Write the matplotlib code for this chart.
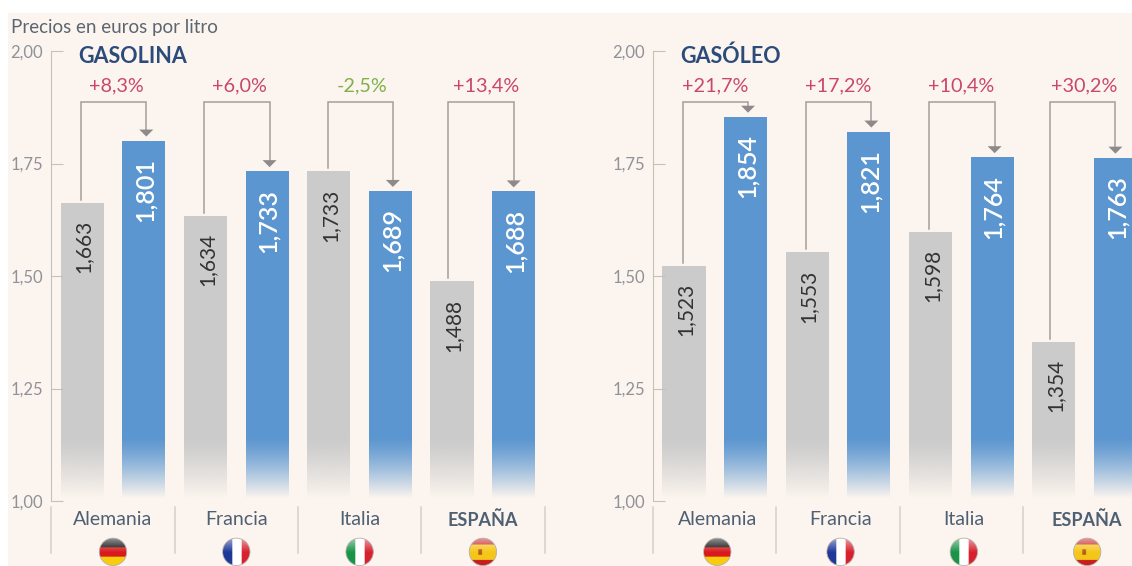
import matplotlib
matplotlib.use("Agg")
import matplotlib.pyplot as plt
import numpy as np
from matplotlib.patches import Ellipse, Rectangle
from matplotlib.transforms import ScaledTranslation

plt.rcParams['font.family'] = ['Lato', 'DejaVu Sans']

# datos
paises = ["Alemania", "Francia", "Italia", "ESPAÑA"]
gasolina_antes = [1.663, 1.634, 1.733, 1.488]
gasolina_ahora = [1.801, 1.733, 1.689, 1.688]
gasolina_var = ["+8,3%", "+6,0%", "-2,5%", "+13,4%"]
gasoleo_antes = [1.523, 1.553, 1.598, 1.354]
gasoleo_ahora = [1.854, 1.821, 1.764, 1.763]
gasoleo_var = ["+21,7%", "+17,2%", "+10,4%", "+30,2%"]
y_ticks = [1.00, 1.25, 1.50, 1.75, 2.00]

W, H = 1132, 566
PX_X = 123.3   # pixeles por pais
PX_Y = 450.0   # pixeles por euro
FONDO = "#FCF5EF"
GRIS = "#CBCBCB"
AZUL = "#5B96D0"
LINEA = "#A39E9D"
TEXTO = "#4E6072"
ROJO = "#C9476B"
VERDE = "#7FB04A"
TITULO = "#2B4C7A"
TICKS = "#8F9299"


def bandera(nombre):
    # bandera redonda con brillo arriba, como imagen RGBA
    n = 60
    img = np.ones((n, n, 3))
    t = np.arange(n) / n
    if nombre == "Alemania":
        img[t < 1 / 3] = (0.05, 0.05, 0.05)
        img[(t >= 1 / 3) & (t < 2 / 3)] = (0.85, 0.1, 0.12)
        img[t >= 2 / 3] = (0.98, 0.8, 0.05)
    elif nombre == "Francia":
        img[:, t < 1 / 3] = (0.12, 0.22, 0.6)
        img[:, t >= 2 / 3] = (0.85, 0.13, 0.18)
    elif nombre == "Italia":
        img[:, t < 1 / 3] = (0.1, 0.58, 0.28)
        img[:, t >= 2 / 3] = (0.85, 0.13, 0.18)
    else:
        img[:] = (0.96, 0.78, 0.1)
        img[t < 0.22] = (0.78, 0.12, 0.12)
        img[t > 0.78] = (0.78, 0.12, 0.12)
        img[24:36, 20:28] = (0.72, 0.35, 0.1)
    brillo = np.clip(0.55 - t * 1.1, 0, 1)[:, None, None]
    return img * (1 - brillo) + brillo


def panel(ax, antes, ahora, variacion, titulo, centro, dx_pais, dx_var):
    # xlim e ylim van de forma que cada pais mida lo mismo en pixeles
    x0, x1 = ax.get_position().x0 * W, ax.get_position().x1 * W
    xlim = ((x0 - centro) / PX_X, (x1 - centro) / PX_X)
    ylim = (1 - (H - 501) / PX_Y, 1 + 501 / PX_Y)
    x = np.arange(len(paises))

    ax.bar(x - 0.25, np.array(antes) - 1, 0.35, bottom=1, color=GRIS, zorder=1)
    ax.bar(x + 0.25, np.array(ahora) - 1, 0.35, bottom=1, color=AZUL, zorder=1)

    # degradado al color del fondo en la base de las barras
    capa = np.ones((100, 2, 4))
    capa[..., :3] = matplotlib.colors.to_rgb(FONDO)
    capa[..., 3] = np.clip(np.linspace(-0.05, 1.05, 100), 0, 1)[:, None] ** 1.3
    ax.imshow(capa, extent=(-0.45, xlim[1], 1.0, 1.15), aspect="auto", zorder=1.5,
              origin="upper", interpolation="bilinear")

    for i in x:
        a, b = antes[i], ahora[i]
        # el conector de ESPAÑA va un poco mas a la izquierda
        xa = i - 0.26 - (2.5 / PX_X if i == 3 else 0)
        xb = i + 0.27 - (2.5 / PX_X if i == 3 else 0)
        punta = b + 4 / PX_Y
        ax.plot([xa, xa, xb, xb], [a + 3 / PX_Y, 1.887, 1.887, punta + 6 / PX_Y],
                color=LINEA, lw=1.1, zorder=2, solid_joinstyle="miter")
        ax.fill([xb - 7 / PX_X, xb + 7 / PX_X, xb],
                [punta + 7 / PX_Y, punta + 7 / PX_Y, punta], color="#8F8A8A", lw=0, zorder=2)

        color = VERDE if variacion[i].startswith("-") else ROJO
        ax.text(i + dx_var / PX_X, 1.922, variacion[i], color=color, fontsize=14.3,
                ha="center", va="center")

        txt_a = f"{a:.3f}".replace(".", ",")
        txt_b = f"{b:.3f}".replace(".", ",")
        ax.text(i - 0.25 + 1.5 / PX_X, a - 44 / PX_Y, txt_a, rotation=90, color="#333333",
                fontsize=15, ha="center", va="center", zorder=3)
        ax.text(i + 0.25 + 1.5 / PX_X, b - 49.5 / PX_Y, txt_b, rotation=90, color="white",
                fontsize=18, fontweight=600, ha="center", va="center", zorder=3)

        # pais, separadores y bandera
        xp = i + dx_pais / PX_X
        es = paises[i] == "ESPAÑA"
        ax.text(xp, 0.9586, paises[i], color=TEXTO, fontsize=13 if es else 14, ha="center",
                va="center", fontweight="bold" if es else "normal")
        ax.plot([i + 0.5, i + 0.5], [0.884, 0.986], color="#D5D0CC", lw=1.1, zorder=2)
        w, h = 13.7 / PX_X, 13.7 / PX_Y
        im = ax.imshow(bandera(paises[i]), extent=(xp - w, xp + w, 0.887 - h, 0.887 + h),
                       aspect="auto", zorder=3)
        im.set_clip_path(Ellipse((xp, 0.887), 2 * w, 2 * h, transform=ax.transData))
        ax.add_patch(Ellipse((xp, 0.887), 2 * w, 2 * h, fill=False, ec="#B5B0AC", lw=0.6, zorder=4))
    ax.plot([-0.5, -0.5], [0.884, 0.986], color="#D5D0CC", lw=1.1, zorder=2)

    ax.text(-0.28, 1.988, titulo, color=TITULO, fontsize=15.5, fontweight="bold",
            ha="left", va="center")

    ax.set_xlim(xlim)
    ax.set_ylim(ylim)
    ax.set_xticks([])
    ax.set_yticks(y_ticks)
    ax.set_yticklabels([f"{v:.2f}".replace(".", ",") for v in y_ticks])
    ax.tick_params(axis="y", direction="in", length=8.5, width=0.8, color="#C4C0BC",
                   labelcolor=TICKS, labelsize=12, pad=6)
    # las etiquetas van 3 px por debajo de su marca
    bajar = ScaledTranslation(0, -3 / 100, fig.dpi_scale_trans)
    for t in ax.get_yticklabels():
        t.set_transform(t.get_transform() + bajar)
    for s in ["top", "right", "bottom"]:
        ax.spines[s].set_visible(False)
    ax.spines["left"].set_position(("data", -0.5))
    ax.spines["left"].set_bounds(1, 2)
    ax.spines["left"].set_color("#C4C0BC")
    ax.patch.set_visible(False)


fig = plt.figure(figsize=(W / 100, H / 100), dpi=100, facecolor="white")
fig.add_artist(Rectangle((8 / W, 0), 1, 1 - 13 / H, transform=fig.transFigure,
                         color=FONDO, lw=0, zorder=-5))

ax1 = fig.add_axes([0, 0, 0.5, 1])
ax2 = fig.add_axes([0.5, 0, 0.5, 1])
panel(ax1, gasolina_antes, gasolina_ahora, gasolina_var, "GASOLINA", 113, 0, 3)
panel(ax2, gasoleo_antes, gasoleo_ahora, gasoleo_var, "GASÓLEO", 714.75, 2.5, 0)

fig.text(11 / W, 1 - 27 / H, "Precios en euros por litro", color="#5C6670",
         fontsize=13.5, ha="left", va="center")

fig.savefig("out.png", dpi=100)
